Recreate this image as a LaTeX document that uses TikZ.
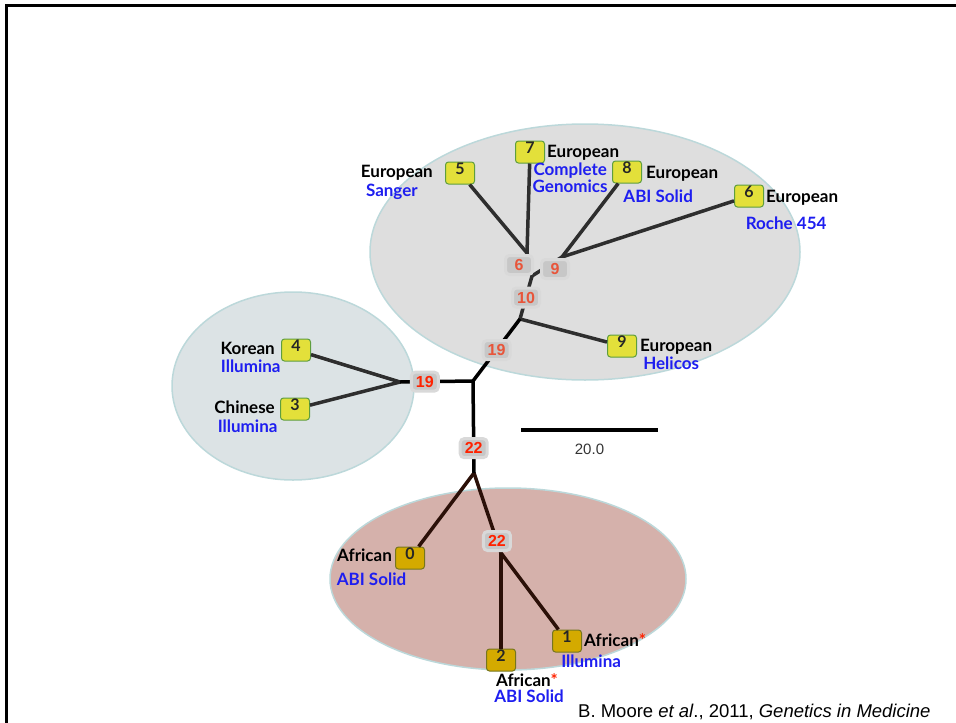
\documentclass[tikz,border=0pt]{standalone}
\usepackage{fontspec}
\setmainfont{Lato}
\newfontfamily\arialfont{Liberation Sans}
\usetikzlibrary{positioning, calc}

\definecolor{eurogrey}{HTML}{DEDEDE}
\definecolor{asiablue}{HTML}{DCE3E5}
\definecolor{afrored}{HTML}{D5B1AB}
\definecolor{rimteal}{HTML}{BCD8DA}
\definecolor{boxyellow}{HTML}{E3E03A}
\definecolor{boxgreen}{HTML}{5E9E3E}
\definecolor{boxgold}{HTML}{D4AA00}
\definecolor{boxolive}{HTML}{76761E}
\definecolor{platblue}{HTML}{1E1EF0}
\definecolor{numorange}{HTML}{E8553A}
\definecolor{numred}{HTML}{FF2200}
\definecolor{branchbrown}{HTML}{2B1008}

\begin{document}
\begin{tikzpicture}[
    x=1pt, y=-1pt,
    sample/.style={draw=boxgreen, fill=boxyellow, line width=1pt, rounded corners=3pt,
        minimum width=29pt, text height=10pt, text depth=8pt, inner sep=2pt,
        font=\fontsize{16}{16}\selectfont\bfseries, text=black!85},
    african/.style={sample, draw=boxolive, fill=boxgold},
    pop/.style={font=\fontsize{17}{17}\selectfont\bfseries, inner sep=0pt,
        text height=12.5pt, text depth=3.5pt},
    tech/.style={pop, text=platblue},
    count/.style={fill=black!22, draw=black!15, line width=3pt, rounded corners=4pt,
        inner sep=1pt, minimum width=27pt, minimum height=19pt,
        font=\arialfont\fontsize{16}{16}\selectfont\bfseries, text=numorange},
    hot/.style={count, text=numred},
    branch/.style={line width=3.5pt, draw=black!82},
    trunk/.style={line width=3.5pt, draw=black},
    afbranch/.style={line width=3.5pt, draw=branchbrown},
    cloud/.style={draw=rimteal, line width=1.5pt}
]
\useasboundingbox (0,0) rectangle (956,723);

% --- frame ---
\draw[line width=2.5pt] (6.5,723) -- (6.5,5.5) -- (956,5.5);

% --- populations ---
\fill[eurogrey] (585,252) ellipse [x radius=215pt, y radius=128pt];
\draw[cloud] (585,252) ellipse [x radius=215pt, y radius=128pt];
\fill[asiablue] (293,386) ellipse [x radius=121pt, y radius=94pt];
\draw[cloud] (293,386) ellipse [x radius=121pt, y radius=94pt];
\fill[afrored] (508,579) ellipse [x radius=178pt, y radius=91pt];
\draw[cloud] (508,579) ellipse [x radius=178pt, y radius=91pt];

% --- samples ---
\node[sample] (b5) at (460,173) {5};
\node[sample] (b7) at (530,152) {7};
\node[sample] (b8) at (627,172) {8};
\node[sample] (b6) at (749,196) {6};
\node[sample] (b9) at (622,346) {9};
\node[sample] (b4) at (296,350) {4};
\node[sample] (b3) at (295,409) {3};
\node[african] (b0) at (410,558) {0};
\node[african] (b1) at (567,641) {1};
\node[african] (b2) at (501,660) {2};

% --- labels ---
\node[pop, left=12pt of b5] (n5) {European};
\node[tech, below=3pt of n5, xshift=-5pt] (t5) {Sanger};
\node[pop, right=2pt of b7, yshift=-1pt] (n7) {European};
\node[tech, below=2pt of n7, xshift=-13pt] (t7) {Complete};
\node[tech, below=0pt of t7] (t7b) {Genomics};
\node[pop, right=4pt of b8, yshift=-2pt] (n8) {European};
\node[tech, below=8pt of n8, xshift=-24pt] (t8) {ABI Solid};
\node[pop, right=2pt of b6, yshift=-2pt] (n6) {European};
\node[tech, below=11pt of n6, xshift=-16pt] (t6) {Roche 454};
\node[pop, right=3pt of b9, yshift=-1pt] (n9) {European};
\node[tech, below=2pt of n9, xshift=-5pt] (t9) {Helicos};
\node[pop, left=6pt of b4] (n4) {Korean};
\node[tech, below=2pt of n4, xshift=3pt] (t4) {Illumina};
\node[pop, left=5pt of b3] (n3) {Chinese};
\node[tech, below=3pt of n3, xshift=3pt] (t3) {Illumina};
\node[pop, left=3pt of b0, yshift=1pt] (n0) {African};
\node[tech, below=8pt of n0, xshift=7pt] (t0) {ABI Solid};
\node[pop, right=2pt of b1, yshift=-1pt] (n1) {African\textcolor{numred}{*}};
\node[tech, below=5pt of n1, xshift=-24pt] (t1) {Illumina};
\node[pop, below=2pt of b2, xshift=26pt] (n2) {African\textcolor{numred}{*}};
\node[tech, below=0pt of n2, xshift=2pt] (t2) {ABI Solid};

% --- tree ---
\coordinate (root) at (473,381);
\coordinate (jasia) at (400,382);
\coordinate (jeur) at (520,319);
\coordinate (jmid) at (532,276);
\coordinate (j6) at (527,253);
\coordinate (j9) at (562,257);
\coordinate (jafr) at (474,473);
\coordinate (j22) at (501,553);

% Asian branches
\draw[branch] (jasia) -- (b4);
\draw[branch] (jasia) -- (b3);
% European branches
\draw[branch] (j6) -- (b5);
\draw[branch] (j6) -- (b7);
\draw[branch] (j9) -- (b8);
\draw[branch] (j9) -- (b6);
\draw[branch] (jmid) -- (j6);
\draw[branch] (jmid) -- (j9);
\draw[branch] (jeur) -- (b9);
\draw[branch] (jeur) -- (jmid) node[count, pos=0.5] (c10) {10};
\node[count] (c6) at (519,265) {6};
\node[count] (c9) at (555,269) {9};
% African branches
\draw[afbranch] (jafr) -- (b0);
\draw[afbranch] (j22) -- (b2);
\draw[afbranch] (j22) -- (b1);
\draw[afbranch] (jafr) -- (j22) node[hot, pos=0.85] (c22b) {22};
% trunk
\draw[trunk] (root) -- (jeur) node[count, pos=0.5] (c19a) {19};
\draw[trunk] (root) -- (jasia) node[hot, pos=0.66] (c19b) {19};
\draw[trunk] (root) -- (jafr) node[hot, pos=0.73] (c22a) {22};

% --- scale bar ---
\coordinate (barL) at (521,430);
\coordinate (barR) at (658,430);
\draw[line width=3.5pt] (barL) -- (barR)
    node[midway, below=9pt, font=\arialfont\fontsize{15}{15}\selectfont, text=black!80] (barlbl) {20.0};

% --- reference ---
\node[anchor=base west, inner sep=0pt, font=\arialfont\fontsize{18.5}{18.5}\selectfont] (cite)
    at (578,717) {B. Moore \textit{et al}., 2011, \textit{Genetics in Medicine}};

\end{tikzpicture}
\end{document}
